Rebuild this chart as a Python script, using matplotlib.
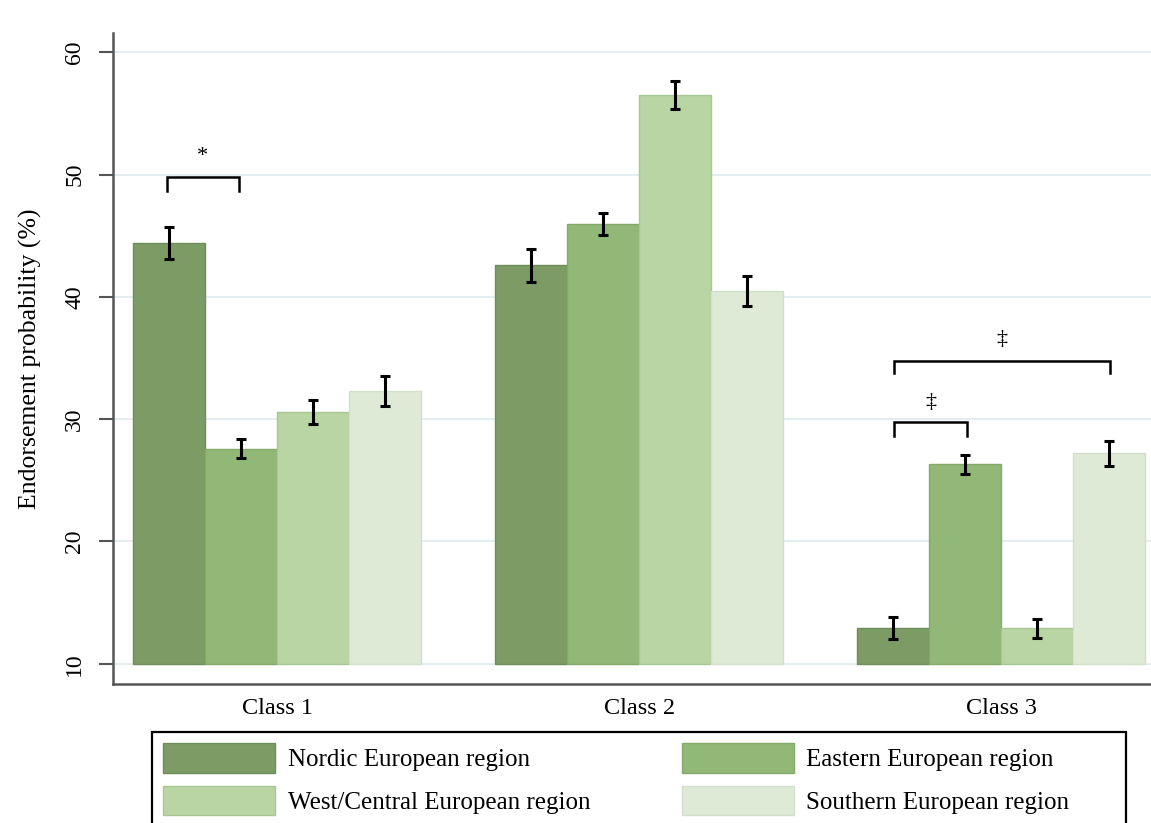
import matplotlib.pyplot as plt
import numpy as np
from matplotlib.patches import Patch, Rectangle

plt.rcParams['font.family'] = ['Liberation Serif', 'DejaVu Serif']

classes = ['Class 1', 'Class 2', 'Class 3']
regions = ['Nordic European region', 'Eastern European region',
           'West/Central European region', 'Southern European region']
colors = ['#7d9b64', '#92b878', '#b9d5a4', '#dee9d6']
edges = ['#6f8d58', '#84aa6a', '#a9c794', '#d2dfca']

# endorsement probability (%) per region, one value per class
nordic = [44.4, 42.6, 12.9]
eastern = [27.6, 46.0, 26.3]
west_central = [30.6, 56.5, 12.9]
southern = [32.3, 40.5, 27.2]

nordic_err = [1.3, 1.35, 0.9]
eastern_err = [0.8, 0.9, 0.8]
west_central_err = [1.0, 1.15, 0.8]
southern_err = [1.2, 1.2, 1.05]

values = [nordic, eastern, west_central, southern]
errors = [nordic_err, eastern_err, west_central_err, southern_err]

base = 10
width = 0.199

fig = plt.figure(figsize=(11.51, 8.23), dpi=100)
ax = fig.add_axes([0.0982, 0.169, 0.9018, 0.791])

x = np.arange(len(classes))
for i in range(4):
    pos = x + (i - 1.5) * width
    vals = np.array(values[i])
    ax.bar(pos, vals - base, width, bottom=base, color=colors[i],
           edgecolor=edges[i], linewidth=1.0, zorder=2)
    ax.errorbar(pos, vals, yerr=errors[i], fmt='none', ecolor='black',
                elinewidth=2.2, capsize=3.5, capthick=2.2, zorder=3)


def bracket(x0, x1, y, drop, label, ly):
    ax.plot([x0, x0, x1, x1], [y - drop, y, y, y - drop], color='black',
            lw=1.8, zorder=4, solid_joinstyle='miter')
    ax.text((x0 + x1) / 2, ly, label, ha='center', va='center', fontsize=16)


bracket(-0.305, -0.105, 49.8, 1.1, '*', 51.5)
bracket(1.705, 1.905, 29.75, 1.15, '‡', 31.4)
bracket(1.705, 2.3, 34.8, 1.05, '‡', 36.5)

ax.set_xlim(-0.453, 2.414)
ax.set_ylim(8.35, 61.6)
ax.set_yticks([10, 20, 30, 40, 50, 60])
ax.set_xticks(x)
ax.set_xticklabels(classes, fontsize=17.5)
ax.tick_params(axis='x', length=0, pad=10)
ax.tick_params(axis='y', length=10, width=1.5, color='#555555', labelsize=17, pad=10)
for lab in ax.get_yticklabels():
    lab.set_rotation(90)
    lab.set_va('center')
ax.set_ylabel('Endorsement probability (%)', fontsize=18.5, labelpad=16)

ax.yaxis.grid(True, color='#e6edf1', lw=1.5, zorder=0)
ax.set_axisbelow(True)
for side in ['top', 'right']:
    ax.spines[side].set_visible(False)
for side in ['left', 'bottom']:
    ax.spines[side].set_color('#555555')
    ax.spines[side].set_linewidth(1.8)

# legend: two rows, two columns, inside a box that runs past the bottom edge
W, H = 1151, 823
fig.patches.append(Rectangle((152 / W, -0.05), (1126 - 152) / W, 0.05 + 1 - 732 / H,
                             transform=fig.transFigure, fill=False,
                             edgecolor='black', linewidth=1.6))
handles = [Patch(facecolor=colors[i], edgecolor=edges[i]) for i in range(4)]
fs = 18
for col, (left, idx) in enumerate([(163, [0, 2]), (682, [1, 3])]):
    leg = fig.legend([handles[i] for i in idx], [regions[i] for i in idx],
                     loc='upper left', bbox_to_anchor=(left / W, 1 - 743 / H),
                     fontsize=fs, handlelength=112 / 25, handleheight=1.45,
                     handletextpad=0.5, labelspacing=0.52, borderpad=0,
                     borderaxespad=0, frameon=False)

fig.savefig('out.png', dpi=100)
